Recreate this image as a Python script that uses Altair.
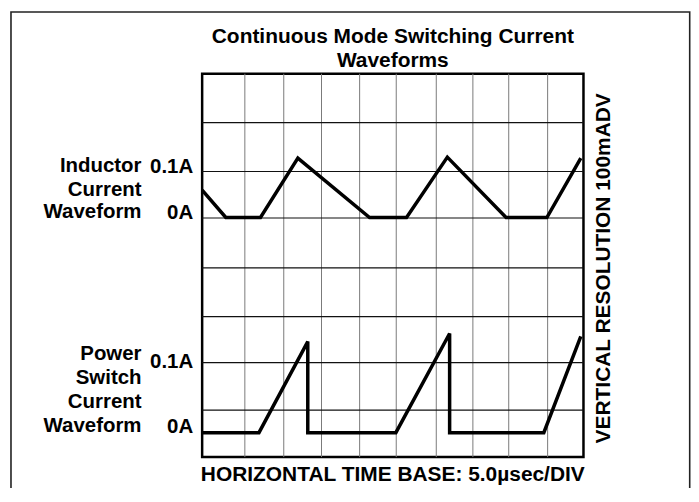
import altair as alt
import pandas as pd

# Grid divisions (measured from the scope graticule, in divisions)
grid_x = [1.12, 2.14, 3.13, 4.13, 5.09, 6.14, 7.10, 8.04, 9.06]
grid_y = [0.98, 1.97, 2.93, 3.95, 4.99, 5.96, 6.98]

# Inductor current waveform (time in divisions, level in divisions)
ind_t = [0.0, 0.62, 1.53, 2.51, 4.39, 5.36, 6.43, 7.97, 9.04, 9.93]
ind_i = [5.57, 5.0, 5.0, 6.24, 5.0, 5.0, 6.26, 5.0, 5.0, 6.24]

# Power switch current waveform
sw_t = [0.0, 1.49, 2.77, 2.77, 5.08, 6.49, 6.49, 8.96, 9.93]
sw_i = [0.51, 0.51, 2.41, 0.51, 0.51, 2.58, 0.51, 0.51, 2.52]

name_labels = ["Inductor", "Current", "Waveform", "Power", "Switch", "Current", "Waveform"]
level_labels = ["0.1A", "0A", "0.1A", "0A"]
title_lines = ["Continuous Mode Switching Current", "Waveforms"]
x_title = "HORIZONTAL TIME BASE: 5.0\u00b5sec/DIV"
y_title = "VERTICAL RESOLUTION 100mADV"

FONT = "Liberation Sans"
W, H = 383, 385
xs = alt.Scale(domain=[0, 10], nice=False, zero=False)
ys = alt.Scale(domain=[0, 8], nice=False, zero=False)


def enc(ch):
    return ch.encode(
        x=alt.X("x:Q", scale=xs, axis=None),
        y=alt.Y("y:Q", scale=ys, axis=None),
    )


vgrid = alt.Chart(pd.DataFrame({"x": grid_x})).mark_rule(
    color="#7a7a7a", strokeWidth=1
).encode(x=alt.X("x:Q", scale=xs, axis=None))

hgrid = alt.Chart(pd.DataFrame({"y": grid_y})).mark_rule(
    color="#111111", strokeWidth=1.2
).encode(y=alt.Y("y:Q", scale=ys, axis=None))

ind_df = pd.DataFrame({"x": ind_t, "y": ind_i, "idx": range(len(ind_t))})
sw_df = pd.DataFrame({"x": sw_t, "y": sw_i, "idx": range(len(sw_t))})

ind_line = alt.Chart(ind_df).mark_line(color="black", strokeWidth=3.5).encode(
    x=alt.X("x:Q", scale=xs, axis=None),
    y=alt.Y("y:Q", scale=ys, axis=None),
    order="idx:Q",
)
sw_line = alt.Chart(sw_df).mark_line(color="black", strokeWidth=3.5).encode(
    x=alt.X("x:Q", scale=xs, axis=None),
    y=alt.Y("y:Q", scale=ys, axis=None),
    order="idx:Q",
)

names_df = pd.DataFrame({
    "text": name_labels,
    "x": [-1.59] * len(name_labels),
    "y": [5.95, 5.45, 4.98, 2.03, 1.52, 1.03, 0.53],
})
levels_df = pd.DataFrame({
    "text": level_labels,
    "x": [-0.235] * len(level_labels),
    "y": [5.93, 4.96, 1.86, 0.50],
})
title_df = pd.DataFrame({"text": title_lines, "x": [5.0, 5.0], "y": [8.65, 8.15]})
xt_df = pd.DataFrame({"text": [x_title], "x": [5.0], "y": [-0.505]})
yt_df = pd.DataFrame({"text": [y_title], "x": [10.705], "y": [3.94]})

text_kw = dict(font=FONT, fontWeight="bold", color="black", baseline="alphabetic")

names = enc(alt.Chart(names_df).mark_text(align="right", fontSize=20.5, **text_kw)).encode(text="text:N")
levels = enc(alt.Chart(levels_df).mark_text(align="right", fontSize=20.5, **text_kw)).encode(text="text:N")
title = enc(alt.Chart(title_df).mark_text(align="center", fontSize=21, **text_kw)).encode(text="text:N")
xt = enc(alt.Chart(xt_df).mark_text(align="center", fontSize=21, **text_kw)).encode(text="text:N")
yt = enc(alt.Chart(yt_df).mark_text(align="center", angle=270, fontSize=21, **text_kw)).encode(text="text:N")

frame = alt.Chart(pd.DataFrame({"a": [0]})).mark_rect(
    fillOpacity=0, stroke="#222222", strokeWidth=1.6
).encode(
    x=alt.value(-192), x2=alt.value(489.7), y=alt.value(-62), y2=alt.value(520)
)

chart = alt.layer(
    frame, vgrid, hgrid, ind_line, sw_line, names, levels, title, xt, yt
).properties(
    width=W,
    height=H,
    autosize="none",
    padding={"left": 195, "top": 65, "right": 108, "bottom": 30},
    background="white",
).configure_view(stroke="black", strokeWidth=2.5)

chart.save("out.html", embed_options={"renderer": "svg", "actions": False})
